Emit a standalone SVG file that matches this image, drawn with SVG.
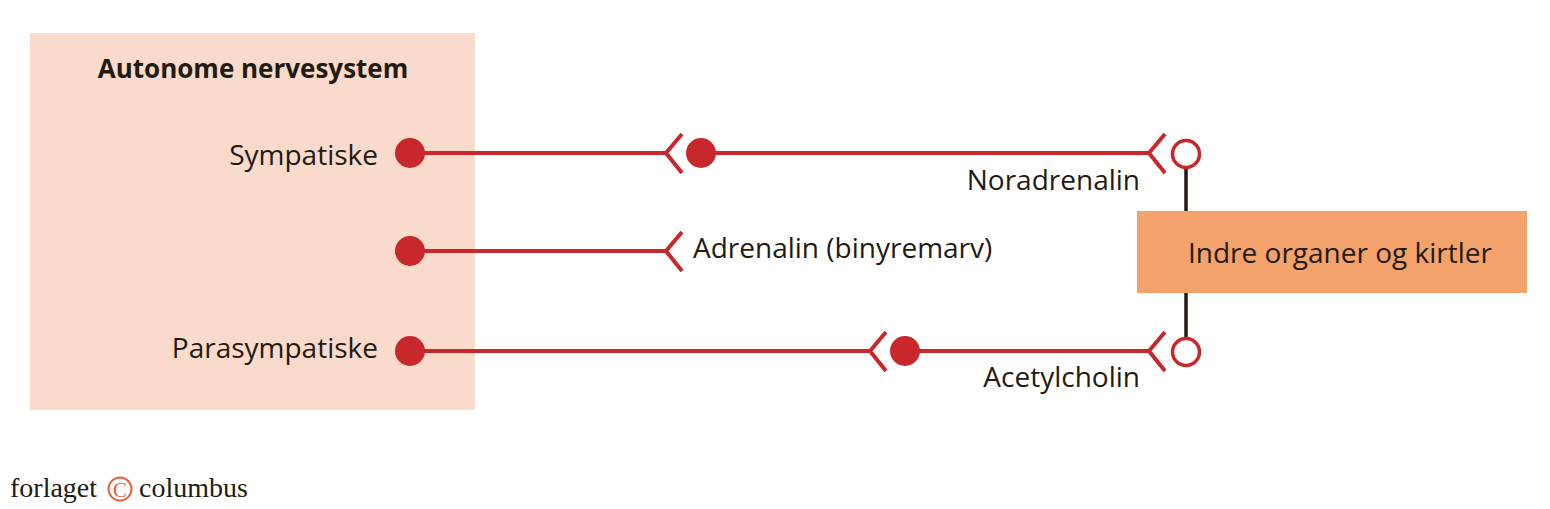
<svg xmlns="http://www.w3.org/2000/svg" width="1550" height="509" viewBox="0 0 1550 509">
<style>
.lbl{font-family:"Open Sans","Liberation Sans",sans-serif;font-size:28px;fill:#231a12}
.ttl{font-size:26px;font-weight:bold}
.red{stroke:#c8282c;stroke-width:4;fill:none}
.dot{fill:#c8282c}
.ring{fill:#fff;stroke:#c8282c;stroke-width:3.5}
.blk{stroke:#231a12;stroke-width:3.5}
.ft{font-family:"Liberation Serif",serif;font-size:28px;fill:#231a12}
</style>
<rect width="1550" height="509" fill="#fff"/>
<g id="ans">
<rect x="30" y="33" width="445" height="377" fill="#fadbcb"/>
<text x="253" y="78" text-anchor="middle" class="lbl ttl">Autonome nervesystem</text>
<text x="378" y="165" text-anchor="end" class="lbl">Sympatiske</text>
<text x="378" y="358" text-anchor="end" class="lbl">Parasympatiske</text>
</g>
<g id="organ">
<rect x="1137" y="211" width="390" height="82" fill="#f4a26c"/>
<text x="1340" y="263" text-anchor="middle" class="lbl">Indre organer og kirtler</text>
</g>
<g id="labels">
<text x="1140" y="190" text-anchor="end" class="lbl">Noradrenalin</text>
<text x="693" y="258" class="lbl">Adrenalin (binyremarv)</text>
<text x="1140" y="387" text-anchor="end" class="lbl">Acetylcholin</text>
</g>
<g id="connectors">
<line class="blk" x1="1186" y1="166" x2="1186" y2="211"/>
<line class="blk" x1="1186" y1="293" x2="1186" y2="339"/>
<line class="red" x1="410" y1="153" x2="666" y2="153"/>
<polyline class="red" points="682,134 666,153 682,173"/>
<line class="red" x1="701" y1="153" x2="1149" y2="153"/>
<polyline class="red" points="1165,134 1149,153 1165,173"/>
<circle class="dot" cx="410" cy="153" r="15"/>
<circle class="dot" cx="701" cy="153" r="15"/>
<circle class="ring" cx="1186" cy="154" r="13.5"/>
<line class="red" x1="410" y1="251" x2="666" y2="251"/>
<polyline class="red" points="682,232 666,251 682,271"/>
<circle class="dot" cx="410" cy="251" r="15"/>
<line class="red" x1="410" y1="351" x2="870" y2="351"/>
<polyline class="red" points="886,332 870,351 886,371"/>
<line class="red" x1="905" y1="351" x2="1149" y2="351"/>
<polyline class="red" points="1165,332 1149,351 1165,371"/>
<circle class="dot" cx="410" cy="351" r="15"/>
<circle class="dot" cx="905" cy="351" r="15"/>
<circle class="ring" cx="1186" cy="352" r="13.5"/>
</g>
<g id="footer">
<text x="10" y="497" class="ft">forlaget</text>
<circle cx="120" cy="489" r="11.5" fill="none" stroke="#e8603c" stroke-width="2"/>
<text x="120" y="497" text-anchor="middle" font-family="Liberation Serif,serif" font-size="21" fill="#e8603c">C</text>
<text x="139" y="497" class="ft">columbus</text>
</g>
</svg>
